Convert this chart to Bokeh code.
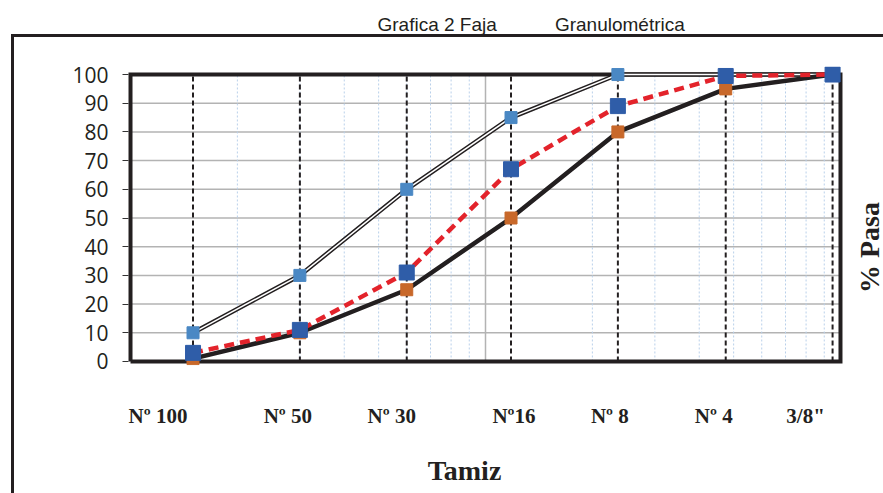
import math
from bokeh.plotting import figure
from bokeh.models import (FixedTicker, CustomJSTickFormatter, Label, InlineStyleSheet)
from bokeh.embed import file_html
from bokeh.resources import INLINE

# ---- data ----
sieve_mm = [0.15, 0.3, 0.6, 1.18, 2.36, 4.75, 9.5]
sieve_labels = ["Nº 100", "Nº 50", "Nº 30", "Nº16", "Nº 8", "Nº 4", '3/8"']
upper_limit = [10, 30, 60, 85, 100, 100, 100]
lower_limit = [1, 10, 25, 50, 80, 95, 100]
sample_pass = [3, 11, 31, 67, 89, 99.5, 100]
y_ticks = [0, 10, 20, 30, 40, 50, 60, 70, 80, 90, 100]
title_left = "Grafica 2 Faja"
title_right = "Granulométrica"
x_title = "Tamiz"
y_title = "% Pasa"

# label placement offsets (px), style only
label_dx = [-35, -12, -15, 3, -8, -12, -27]

X_LO, X_HI = 0.1, 10.0
Y_LO, Y_HI = 0, 100
XPAD, YPAD_LO, YPAD_HI = 0.0113, 1.4, 2.8

W, H = 883, 493
FL, FR, FT, FB = 126, 39, 66, 128   # borders around the frame
frame_w = W - FL - FR
px_per_decade = frame_w / (math.log10(X_HI / X_LO) + 2 * XPAD)

p = figure(width=W, height=H, x_axis_type="log", output_backend="svg",
           toolbar_location=None,
           x_range=(X_LO * 10 ** -XPAD, X_HI * 10 ** XPAD),
           y_range=(Y_LO - YPAD_LO, Y_HI + YPAD_HI),
           min_border_left=FL, min_border_right=FR,
           min_border_top=FT, min_border_bottom=FB)
p.outline_line_color = None
p.xgrid.visible = False
p.ygrid.visible = False
p.background_fill_color = "white"
p.border_fill_color = "white"

# title (blank second line lifts it towards the top edge)
p.title.text = title_left + "\u00a0" * 11 + title_right + "\n\u00a0"
p.title.align = "left"
p.title.offset = 377 - FL
p.title.text_font = "Liberation Sans"
p.title.text_font_style = "normal"
p.title.text_font_size = "19px"
p.title.text_color = "#231f20"
p.title.standoff = 22

# y axis
yax = p.yaxis[0]
yax.ticker = FixedTicker(ticks=y_ticks)
yax.axis_line_color = None
yax.major_tick_out = 4
yax.major_tick_in = 2
yax.major_tick_line_color = "#333333"
yax.minor_tick_line_color = None
yax.major_label_text_font = "Open Sans"
yax.major_label_text_font_size = "21px"
yax.major_label_text_color = "#231f20"
yax.major_label_standoff = 14

# x axis: labels sit slightly left of each sieve line, as in the original
label_pos = [s * 10 ** (dx / px_per_decade) for s, dx in zip(sieve_mm, label_dx)]
xax = p.xaxis[0]
xax.ticker = FixedTicker(ticks=label_pos)
xax.formatter = CustomJSTickFormatter(args=dict(pos=label_pos, lb=sieve_labels), code="""
let best = 0, bd = 1e9;
for (let k = 0; k < pos.length; k++) {
  const d = Math.abs(Math.log(tick) - Math.log(pos[k]));
  if (d < bd) { bd = d; best = k; }
}
return lb[best];
""")
xax.axis_line_color = None
xax.major_tick_line_color = None
xax.minor_tick_line_color = None
xax.major_label_text_font = "Liberation Serif"
xax.major_label_text_font_style = "bold"
xax.major_label_text_font_size = "21px"
xax.major_label_text_color = "#231f20"
xax.major_label_standoff = 32
# trailing no-break spaces nudge the centred title slightly left, as in the original
xax.axis_label = x_title + "\u00a0" * 6
xax.axis_label_text_font = "Liberation Serif"
xax.axis_label_text_font_style = "bold"
xax.axis_label_text_font_size = "28px"
xax.axis_label_text_color = "#231f20"
xax.axis_label_standoff = 24

# right-hand title, reading upwards, in the right side panel
# (screen y is measured up from the frame bottom)
p.add_layout(Label(x=25, y=(H - FB) - 247, x_units="screen", y_units="screen",
                   text=y_title, angle=math.pi / 2, text_align="center",
                   text_baseline="middle", text_font="Liberation Serif",
                   text_font_style="bold", text_font_size="28px",
                   text_color="#231f20"), "right")

# grid lines
hgrid = [t for t in y_ticks if Y_LO < t < Y_HI]
p.segment(x0=[X_LO] * len(hgrid), x1=[X_HI] * len(hgrid), y0=hgrid, y1=hgrid,
          line_color="#b3b3b3", line_width=1.5)
minor_x = [m * 10 ** d for d in (-1, 0) for m in range(2, 10)]
p.segment(x0=minor_x, x1=minor_x, y0=[Y_LO] * len(minor_x), y1=[Y_HI] * len(minor_x),
          line_color="#b9d0ea", line_width=1, line_dash="2 2")
p.segment(x0=[1.0], x1=[1.0], y0=[Y_LO], y1=[Y_HI], line_color="#b3b3b3", line_width=1.5)

# sieve dashed verticals
p.segment(x0=sieve_mm, x1=sieve_mm, y0=[Y_LO] * len(sieve_mm), y1=[Y_HI] * len(sieve_mm),
          line_color="#231f20", line_width=2, line_dash="5 3")

# plot border
p.line([X_LO, X_LO, X_HI, X_HI, X_LO], [Y_LO, Y_HI, Y_HI, Y_LO, Y_LO],
       line_color="#231f20", line_width=4, line_join="miter")

# series
p.line(sieve_mm, upper_limit, line_color="#231f20", line_width=4.5)
p.line(sieve_mm, upper_limit, line_color="white", line_width=1.5)
p.line(sieve_mm, lower_limit, line_color="#231f20", line_width=4.5)
p.line(sieve_mm, sample_pass, line_color="#e3232b", line_width=4.5, line_dash="10 6")

p.scatter(sieve_mm, upper_limit, marker="square", size=12, fill_color="#4a88c4", line_color="#4a88c4")
p.scatter(sieve_mm, lower_limit, marker="square", size=12, fill_color="#c8682a", line_color="#c8682a")
p.scatter(sieve_mm, sample_pass, marker="square", size=15, fill_color="#2f5da8", line_color="#2f5da8")

# outer chart-area border (left and top edges visible)
p.stylesheets = [InlineStyleSheet(css="""
:host { position: relative; }
:host::after {
  content: ""; position: absolute; left: 11px; top: 34px; right: 0; bottom: 0;
  border-left: 3px solid #231f20; border-top: 3px solid #231f20;
  pointer-events: none; z-index: 10;
}
""")]

open("out.html", "w").write(file_html(p, INLINE))
